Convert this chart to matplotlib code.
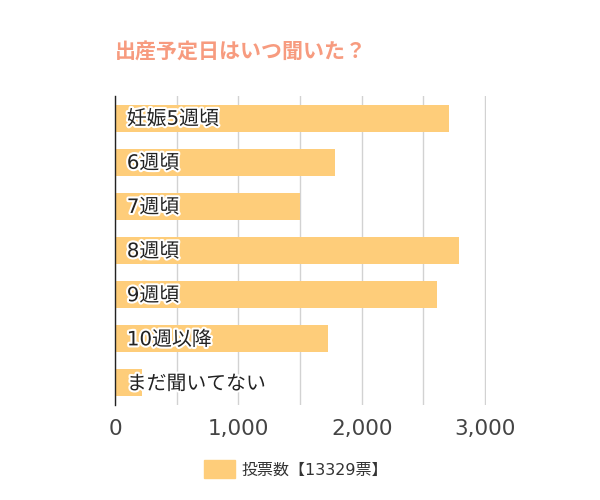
import matplotlib
matplotlib.use("Agg")
import matplotlib.pyplot as plt
import matplotlib.patheffects as pe
from matplotlib.patches import Patch
from matplotlib.ticker import FuncFormatter, MultipleLocator

plt.rcParams['font.family'] = ['DejaVu Sans', 'Noto Sans CJK JP']

title = "出産予定日はいつ聞いた？"
categories = ["妊娠5週頃", "6週頃", "7週頃", "8週頃", "9週頃", "10週以降", "まだ聞いてない"]
votes = [2705, 1780, 1500, 2788, 2610, 1727, 219]
series_name = "投票数【13329票】"

bar_color = "#FECD7A"
title_color = "#F79B7F"

fig = plt.figure(figsize=(6, 5), dpi=100)
# a little past 3,000 so the last grid line is not cut in half
ax = fig.add_axes([115 / 600, 1 - 405 / 500, 371.2 / 600, 309 / 500])

ypos = list(range(len(categories)))
ax.barh(ypos, votes, height=0.61, color=bar_color, zorder=2)
ax.set_ylim(len(categories) - 0.5, -0.5)
ax.set_xlim(0, 3010)

ax.xaxis.set_major_locator(MultipleLocator(1000))
ax.xaxis.set_minor_locator(MultipleLocator(500))
ax.xaxis.set_major_formatter(FuncFormatter(lambda v, p: f"{int(v):,}"))
ax.grid(axis='x', which='both', color='#d2d2d2', linewidth=1, zorder=0)
ax.tick_params(axis='x', which='both', length=0, pad=10, labelsize=15.5, labelcolor='#444444')
ax.set_yticks([])

for s in ['top', 'right', 'bottom']:
    ax.spines[s].set_visible(False)
ax.spines['left'].set_color('#222222')
ax.spines['left'].set_linewidth(1)
ax.spines['left'].set_zorder(3)

for y, name in zip(ypos, categories):
    ax.annotate(name, xy=(0, y), xytext=(8.5, -0.8), textcoords='offset points',
                va='center', ha='left', fontsize=14.3, color='#222222', zorder=4,
                path_effects=[pe.withStroke(linewidth=3, foreground='white')])

fig.text(115 / 600, 1 - 53 / 500, title, fontsize=15.1, fontweight='bold',
         color=title_color, va='center', ha='left')

fig.legend(handles=[Patch(color=bar_color, label=series_name)],
           loc='center', bbox_to_anchor=(296 / 600, 1 - 469 / 500),
           frameon=False, fontsize=11.5, handlelength=1.95, handleheight=1.3,
           handletextpad=0.45, labelcolor='#333333')

fig.savefig("out.png", dpi=100)
